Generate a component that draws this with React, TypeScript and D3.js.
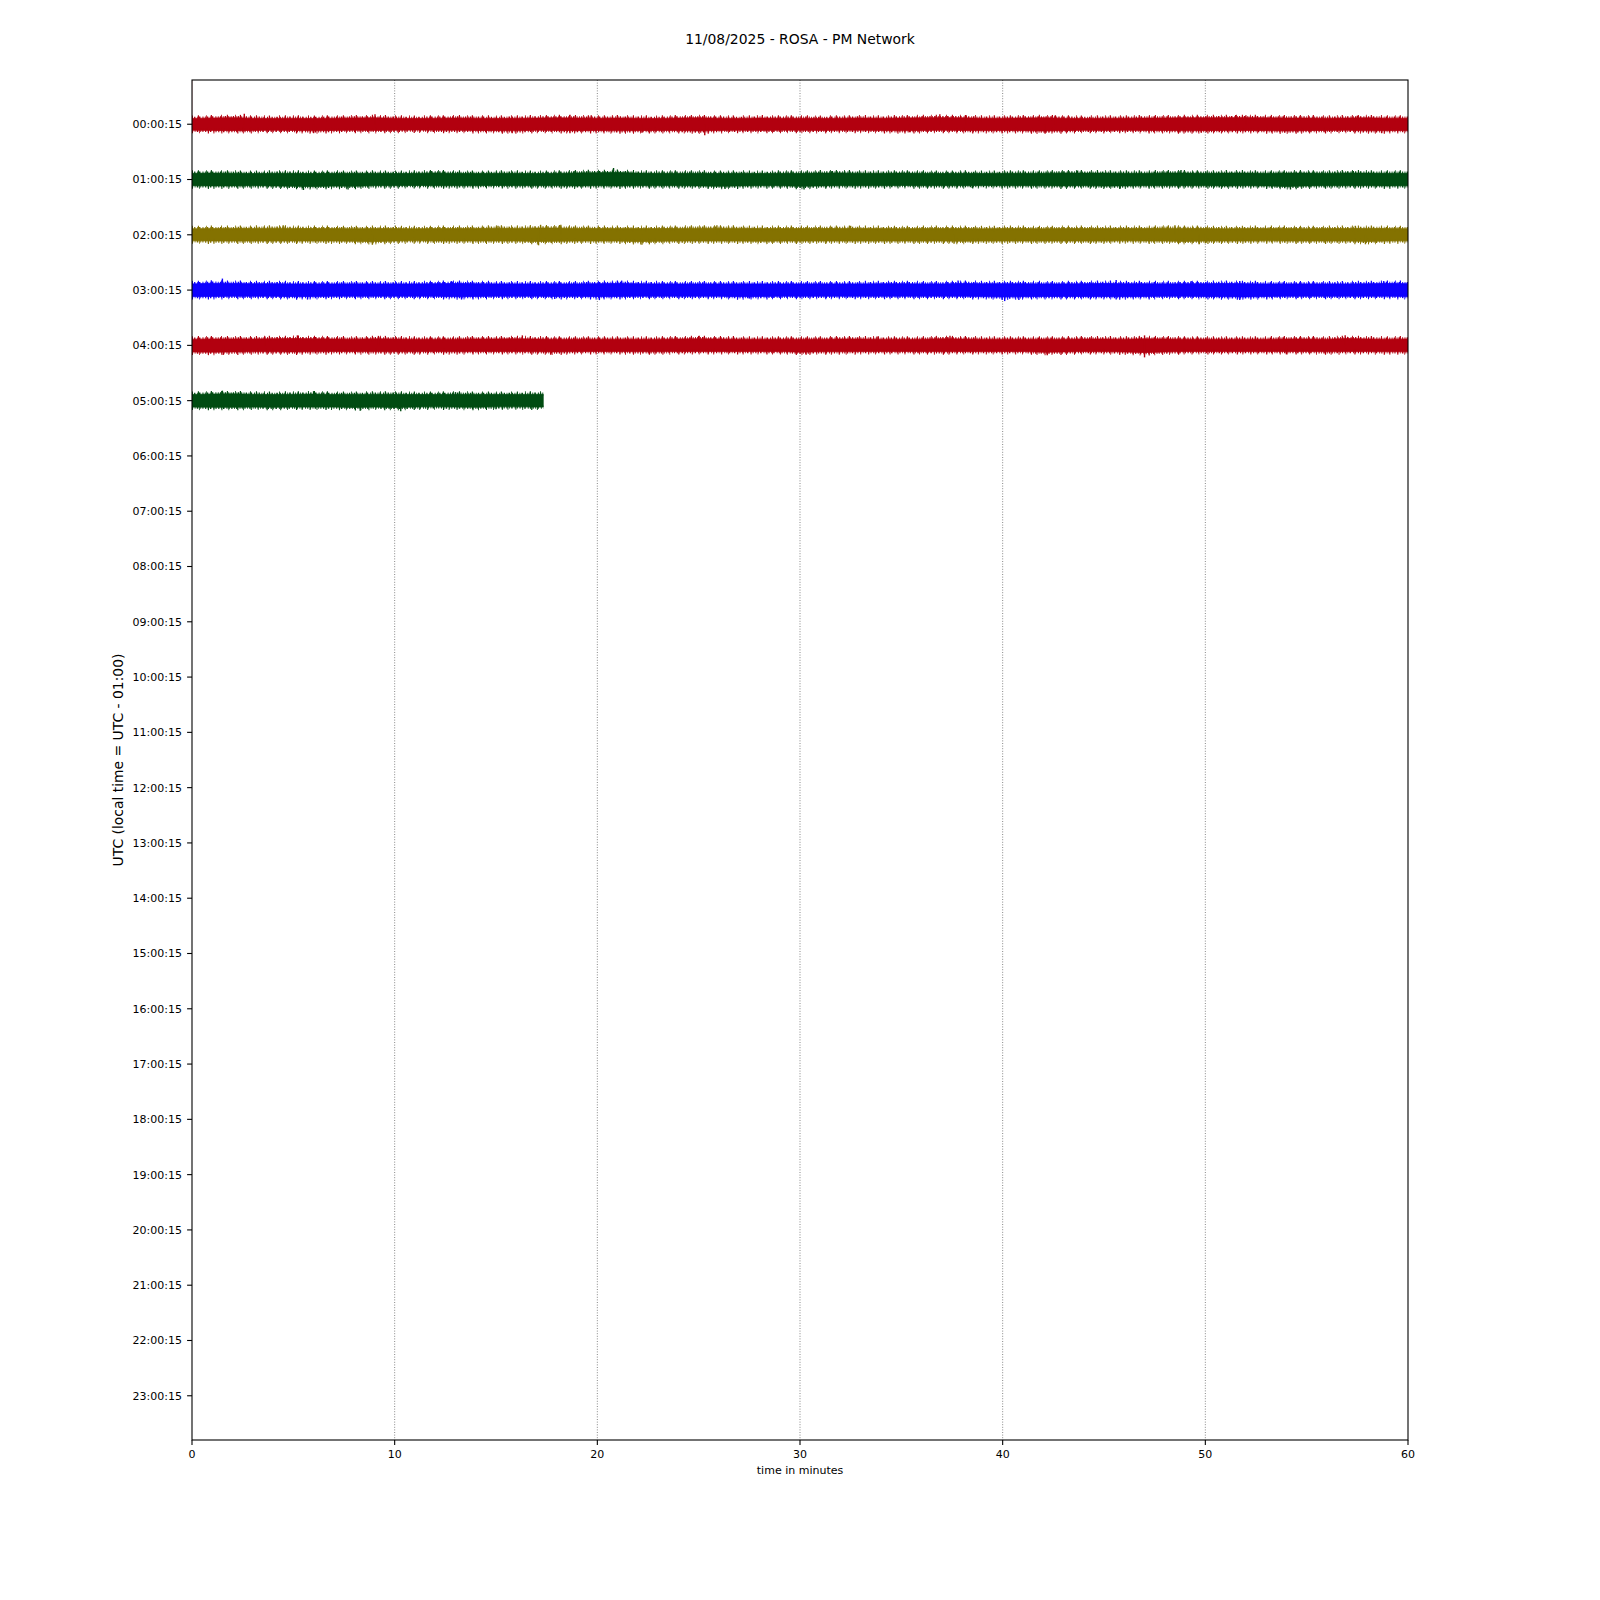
import React from "react";
import * as d3 from "d3";

// ---------- data ----------
const TITLE = "11/08/2025 - ROSA - PM Network";
const X_LABEL = "time in minutes";
const Y_LABEL = "UTC (local time = UTC - 01:00)";

const ROW_LABELS = [
  "00:00:15", "01:00:15", "02:00:15", "03:00:15", "04:00:15", "05:00:15",
  "06:00:15", "07:00:15", "08:00:15", "09:00:15", "10:00:15", "11:00:15",
  "12:00:15", "13:00:15", "14:00:15", "15:00:15", "16:00:15", "17:00:15",
  "18:00:15", "19:00:15", "20:00:15", "21:00:15", "22:00:15", "23:00:15",
];
const X_TICKS = [0, 10, 20, 30, 40, 50, 60];
const TRACE_COLORS = ["#B2000F", "#004C12", "#847200", "#0E01FF"];

// duration (minutes) of data in each recorded row
const ROW_DURATION = [60, 60, 60, 60, 60, 17.33];

// per-minute envelope of the trace (counts), above and below the baseline
const ENV_UP = [
  [58,62,66,60,58,60,58,60,62,64,60,58,60,62,60,58,60,62,64,62,60,62,60,58,62,64,60,58,62,60,60,58,60,62,60,62,64,66,64,60,60,62,64,60,58,60,60,62,62,64,64,66,66,64,62,62,60,62,64,60,60],
  [62,64,62,60,62,62,60,62,60,62,60,62,66,62,60,62,62,60,62,66,68,70,64,62,62,62,60,62,60,62,62,64,66,62,62,64,62,60,62,60,62,62,62,66,64,64,62,62,66,64,62,64,64,62,64,64,62,66,64,62,62],
  [60,62,62,64,66,64,62,62,60,62,62,60,62,62,62,66,64,68,68,64,62,62,62,62,64,66,66,64,62,62,62,62,64,62,62,60,62,62,62,60,62,62,60,62,62,62,62,62,66,64,62,60,62,62,62,60,62,62,64,62,60],
  [62,68,66,64,64,62,62,62,62,62,62,62,64,66,64,62,62,62,62,62,64,66,64,62,62,62,62,62,62,62,62,62,62,62,64,64,62,62,66,64,64,64,62,62,64,66,64,64,62,64,64,66,64,62,62,62,62,62,64,66,64],
  [62,64,64,64,66,68,66,64,62,66,64,62,62,62,64,64,66,64,62,62,62,62,62,62,64,66,64,62,62,62,62,62,64,64,62,62,62,66,64,62,62,62,62,62,64,64,62,66,64,62,62,62,62,62,64,64,62,68,64,62,64],
  [62,66,68,64,62,64,66,62,62,64,64,62,62,64,62,62,62,64,64],
];
const ENV_DOWN = [
  [60,62,64,62,60,62,66,62,60,62,60,58,60,60,62,64,66,60,62,64,62,66,64,62,62,68,62,60,62,60,60,62,60,60,62,66,62,60,62,62,62,64,68,64,60,62,60,62,62,66,64,62,62,64,68,64,62,60,66,64,62],
  [62,64,64,62,64,68,70,66,68,62,62,60,62,62,62,60,62,62,62,64,62,64,62,62,62,64,68,64,62,62,68,64,62,62,62,60,62,62,62,60,62,62,62,64,62,66,64,62,62,62,62,64,62,64,70,64,62,62,62,64,62],
  [60,62,62,62,62,62,62,62,64,68,62,60,62,62,62,62,62,66,64,62,62,62,68,64,62,62,62,62,64,62,62,62,62,62,62,62,62,62,64,62,62,62,62,62,62,62,60,62,62,66,62,62,62,60,62,62,62,62,66,62,60],
  [64,64,62,62,62,66,64,62,62,62,62,62,62,66,64,62,62,62,64,62,66,64,62,62,62,62,62,66,64,62,62,62,62,62,62,62,62,62,62,64,70,66,64,64,64,64,66,64,62,62,64,66,68,64,62,62,62,62,62,62,64],
  [66,68,66,64,64,66,64,62,62,64,64,64,62,64,62,62,62,64,66,62,62,62,64,64,62,62,62,62,62,62,68,64,64,62,62,62,62,64,62,62,62,62,68,66,62,62,66,72,66,62,62,62,62,62,62,62,64,62,62,64,64],
  [64,66,66,64,66,64,64,64,68,64,68,64,62,64,66,62,62,64,64],
];

// individual peaks (minute, counts; positive = up)
const PEAKS_ROW0 = [[0,440],[2.58,105],[6.0,-90],[9.03,100],[15.3,-80],[15.8,-90],[18.65,95],[18.65,-90],[19.7,90],[22.2,-85],[25.3,-110],[35.4,-80],[36.9,100],[38.2,90],[42.1,-85],[42.6,90],[49.8,-85],[51.5,92],[52.0,90],[57.5,85],[58.7,-90]];
const PEAKS_ROW1 = [[5.5,-105],[7.7,-100],[11.8,85],[18.9,85],[20.8,115],[26.3,-95],[30.2,-100],[31.6,85],[38.5,-85],[43.7,90],[45.8,-90],[48.8,95],[54.2,-100],[57.3,85]];
const PEAKS_ROW2 = [[4.5,95],[8.9,-100],[15.1,90],[17.1,-105],[17.2,100],[18.2,100],[22.2,-100],[25.9,95],[32.5,90],[37.6,-90],[48.5,95],[49.7,-95],[50.0,-85],[57.4,90],[57.9,-95]];
const PEAKS_ROW3 = [[1.5,115],[5.7,-95],[12.8,90],[13.3,-95],[17.9,-90],[20.1,-100],[21.2,95],[27.5,-85],[37.8,95],[40.1,-110],[40.8,-100],[45.6,100],[45.6,-95],[49.3,90],[51.7,90],[51.7,-100],[58.8,90]];
const PEAKS_ROW4 = [[1.55,-95],[3.6,88],[5.2,100],[9.2,95],[16.3,100],[17.7,-95],[25.0,95],[30.3,-95],[33.8,88],[37.4,95],[42.2,-100],[47.0,100],[47.0,-120],[54.0,-90],[56.9,100]];
const PEAKS_ROW5 = [[1.5,100],[6.0,95],[8.3,-100],[10.3,-105],[13.0,85],[15.0,-85]];
const PEAKS = [PEAKS_ROW0, PEAKS_ROW1, PEAKS_ROW2, PEAKS_ROW3, PEAKS_ROW4, PEAKS_ROW5];

// ---------- layout ----------
const W = 1600, H = 1600;
const M = { left: 192, right: 1408, top: 80, bottom: 1440 };
const FONT = "DejaVu Sans, Verdana, sans-serif";

export default function App() {
  const x = d3.scaleLinear().domain([0, 60]).range([M.left, M.right]);
  const y = d3.scaleLinear().domain([-0.8, 23.8]).range([M.top, M.bottom]);
  const rowH = y(1) - y(0);
  // counts -> pixel offset
  const amp = d3.scaleLinear().domain([-rowH * 10 / 2, rowH * 10 / 2]).range([rowH / 2, -rowH / 2]);

  const traces = ENV_UP.map((up, r) => {
    const down = ENV_DOWN[r];
    const cy = y(r);
    const pts = up.map((u, i) => ({ t: Math.min(i, ROW_DURATION[r]), u, d: down[i] }));
    const area = d3.area<any>()
      .x((p) => x(p.t))
      .y0((p) => cy + amp(-p.d))
      .y1((p) => cy + amp(p.u))
      .curve(d3.curveLinear);
    const upLine = d3.line<any>().x((p) => x(p.t)).y((p) => cy + amp(p.u));
    const dnLine = d3.line<any>().x((p) => x(p.t)).y((p) => cy + amp(-p.d));
    return { r, cy, pts, area: area(pts), upLine: upLine(pts), dnLine: dnLine(pts) };
  });

  return (
    <svg width={W} height={H} style={{ position: "absolute", left: 0, top: 0, background: "#fff" }} fontFamily={FONT}>
      <rect x={0} y={0} width={W} height={H} fill="#fff" />
      <defs>
        <clipPath id="plotclip">
          <rect x={M.left} y={M.top} width={M.right - M.left} height={M.bottom - M.top} />
        </clipPath>
      </defs>
      <text x={800} y={43.5} textAnchor="middle" fontSize={13.9} fill="#000">{TITLE}</text>

      {/* grid */}
      {X_TICKS.filter((t) => t > 0 && t < 60).map((t) => (
        <line key={"g" + t} x1={x(t)} x2={x(t)} y1={M.top} y2={M.bottom}
          stroke="#555" strokeWidth={0.7} strokeDasharray="1,1.6" />
      ))}

      {/* traces */}
      <g clipPath="url(#plotclip)">
        {traces.map((tr) => {
          const color = TRACE_COLORS[tr.r % TRACE_COLORS.length];
          return (
            <g key={"tr" + tr.r}>
              <path d={tr.area || ""} fill={color} stroke={color} strokeWidth={0.8} />
              <path d={tr.upLine || ""} fill="none" stroke={color} strokeWidth={3.4} strokeDasharray="0.9 1.2 1.3 1.6 0.8 1.1 1.6 2.0 1 1.4" />
              <path d={tr.dnLine || ""} fill="none" stroke={color} strokeWidth={3.4} strokeDasharray="1.2 1.5 0.8 1.3 1.5 2.0 0.9 1.2 1.1 1.6" />
              <path d={tr.upLine || ""} fill="none" stroke={color} strokeWidth={6} strokeDasharray="0.9 5 1.1 7 0.8 4 1.2 9" />
              <path d={tr.dnLine || ""} fill="none" stroke={color} strokeWidth={6} strokeDasharray="1 6 0.8 8 1.2 4.5 0.9 7" />
              {PEAKS[tr.r].map(([t, a], i) => (
                <line key={i} x1={x(t)} x2={x(t)} y1={tr.cy} y2={tr.cy + amp(a)}
                  stroke={color} strokeWidth={t === 0 ? 0.6 : 1.4} strokeOpacity={t === 0 ? 0.5 : 1} />
              ))}
            </g>
          );
        })}
      </g>

      {/* frame */}
      <rect x={M.left} y={M.top} width={M.right - M.left} height={M.bottom - M.top} fill="none" stroke="#000" strokeWidth={1.1} />

      {/* y ticks */}
      {ROW_LABELS.map((lab, i) => (
        <g key={"y" + i}>
          <line x1={M.left - 4.9} x2={M.left} y1={y(i)} y2={y(i)} stroke="#000" strokeWidth={1.1} />
          <text x={M.left - 10} y={y(i) + 3.9} textAnchor="end" fontSize={11} fill="#000">{lab}</text>
        </g>
      ))}

      {/* x ticks */}
      {X_TICKS.map((t) => (
        <g key={"x" + t}>
          <line x1={x(t)} x2={x(t)} y1={M.bottom} y2={M.bottom + 4.9} stroke="#000" strokeWidth={1.1} />
          <text x={x(t)} y={1458.3} textAnchor="middle" fontSize={11} fill="#000">{t}</text>
        </g>
      ))}

      <text x={800} y={1474} textAnchor="middle" fontSize={11} fill="#000">{X_LABEL}</text>
      <text transform={`translate(123,760) rotate(-90)`} textAnchor="middle" fontSize={13.9} fill="#000">{Y_LABEL}</text>
    </svg>
  );
}
